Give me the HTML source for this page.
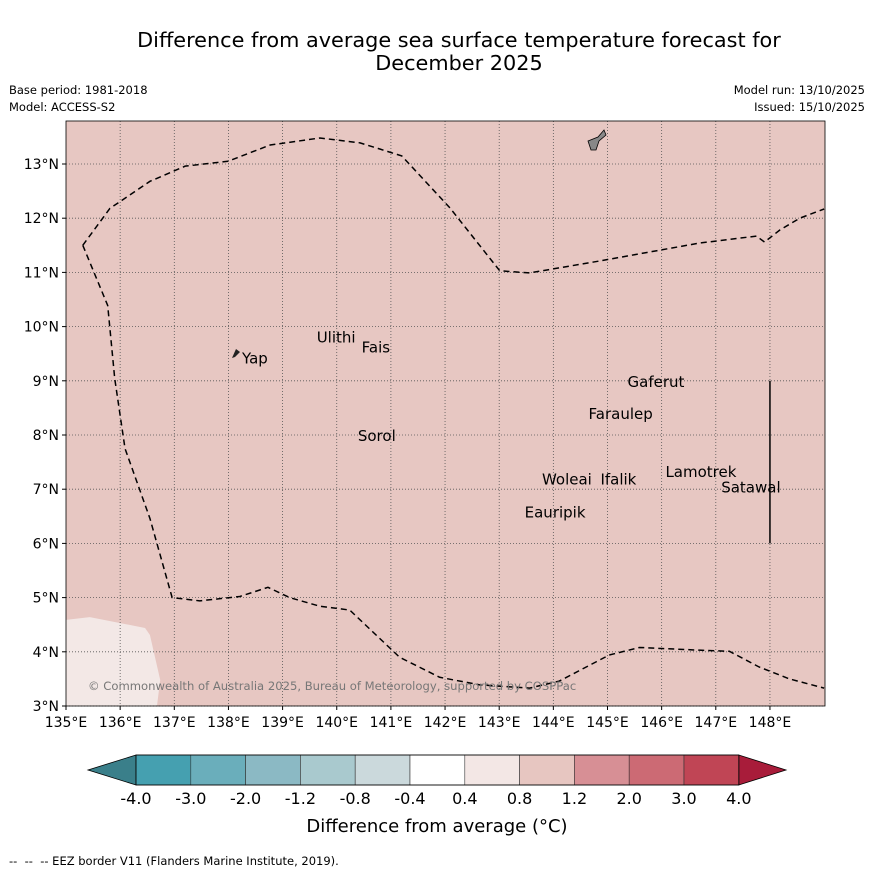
<!DOCTYPE html>
<html><head><meta charset="utf-8"><style>
body{margin:0;background:#fff;font-family:"Liberation Sans","DejaVu Sans",sans-serif;}
svg text{font-family:"DejaVu Sans","Liberation Sans",sans-serif;}
</style></head><body>
<svg id="c" width="873" height="873" viewBox="0 0 873 873" xmlns="http://www.w3.org/2000/svg">
<rect width="873" height="873" fill="#fff"/>
<text x="459" y="47" font-size="20.8" text-anchor="middle">Difference from average sea surface temperature forecast for</text>
<text x="459" y="70" font-size="20.8" text-anchor="middle">December 2025</text>
<text x="9" y="94" font-size="11.5">Base period: 1981-2018</text>
<text x="9" y="111" font-size="11.5">Model: ACCESS-S2</text>
<text x="865" y="94" font-size="11.5" text-anchor="end">Model run: 13/10/2025</text>
<text x="865" y="111" font-size="11.5" text-anchor="end">Issued: 15/10/2025</text>
<g id="map"></g>
<g id="cbar"></g>
<text x="437" y="832" font-size="18" text-anchor="middle">Difference from average (°C)</text>
<text x="9" y="865" font-size="11.5" xml:space="preserve" style="white-space:pre">--  --  -- EEZ border V11 (Flanders Marine Institute, 2019).</text>
</svg>
<script>
const lonTicks=[135,136,137,138,139,140,141,142,143,144,145,146,147,148];
const latTicks=[3,4,5,6,7,8,9,10,11,12,13];
const eezTopLon=[135.31,135.81,136.55,137.2,137.99,138.77,139.69,140.43,141.2,142.09,143.01,143.56,144.85,146.69,147.75,147.9,148.18,148.55,149];
const eezTopLat=[11.5,12.18,12.68,12.96,13.05,13.35,13.48,13.39,13.15,12.19,11.03,10.99,11.21,11.54,11.67,11.56,11.78,12.0,12.17];
const eezBotLon=[135.31,135.77,135.9,136.09,136.55,136.96,137.47,138.21,138.73,139.13,139.69,140.24,140.61,141.16,141.9,142.64,143.56,144.11,145.03,145.59,146.69,147.25,147.8,148.36,149];
const eezBotLat=[11.5,10.39,9.04,7.75,6.46,5.0,4.94,5.02,5.19,5.0,4.84,4.77,4.42,3.9,3.53,3.39,3.33,3.46,3.94,4.08,4.03,4.01,3.72,3.5,3.33];
const warmLon=[135,135.44,136.46,136.55,136.74,136.68,135];
const warmLat=[4.59,4.64,4.44,4.31,3.48,3.0,3.0];
const islandNames=['Ulithi','Fais','Yap','Gaferut','Faraulep','Sorol','Lamotrek','Woleai','Ifalik','Satawal','Eauripik'];
const islandLon=[139.63,140.46,138.25,145.37,144.65,140.39,146.07,143.79,144.87,147.1,143.47];
const islandLat=[9.8,9.61,9.41,8.98,8.39,7.98,7.32,7.18,7.18,7.03,6.57];
const cbBounds=['-4.0','-3.0','-2.0','-1.2','-0.8','-0.4','0.4','0.8','1.2','2.0','3.0','4.0'];
const cbColors=['#45a0b0','#6aaebb','#8bb9c4','#a9c9ce','#cbd9dc','#ffffff','#f3e7e5','#e7c6c1','#d78f95','#cc6a74','#c04555'];
const lonX=l=>66+(l-135)*54.15, latY=l=>706-(l-3)*54.2;
const NS='http://www.w3.org/2000/svg';
function mk(t,a,p){const e=document.createElementNS(NS,t);for(const k in a)e.setAttribute(k,a[k]);p.appendChild(e);return e;}
const m=document.getElementById('map');
let bg=mk('rect',{x:66,y:121,width:759,height:585,fill:'#e7c7c2'},m);


let wp=mk('polygon',{points:warmLon.map((l,i)=>lonX(l)+','+latY(warmLat[i])).join(' '),fill:'#f3e8e6'},m);


lonTicks.forEach(l=>{const x=lonX(l);
 if(l>135){let g=mk('line',{x1:x,x2:x,y1:121,y2:706,stroke:'#555','stroke-width':0.8,'stroke-dasharray':'1,2'},m);
 
 }
 mk('line',{x1:x,x2:x,y1:706,y2:710,stroke:'#000'},m);
 let t=mk('text',{x:x,y:727,'font-size':14,'text-anchor':'middle'},m);t.textContent=l+'°E';
 
 });
latTicks.forEach(l=>{const y=latY(l);
 let g=mk('line',{x1:66,x2:825,y1:y,y2:y,stroke:'#555','stroke-width':0.8,'stroke-dasharray':'1,2'},m);
 
 
 mk('line',{x1:62,x2:66,y1:y,y2:y,stroke:'#000'},m);
 let t=mk('text',{x:59,y:y+5,'font-size':14,'text-anchor':'end'},m);t.textContent=l+'°N';
 
 });
[[eezTopLon,eezTopLat,'eez-border-north'],[eezBotLon,eezBotLat,'eez-border-south']].forEach(([a,b,n])=>{
 let p=mk('polyline',{points:a.map((l,i)=>lonX(l)+','+latY(b[i])).join(' '),fill:'none',stroke:'#000','stroke-width':1.5,'stroke-dasharray':'6,4'},m);
 
 });
let gu=mk('path',{d:'M588,141 L598,137 L604,130 L606,135 L599,141 L596,150 L591,150 Z',fill:'#888',stroke:'#000','stroke-width':0.8},m);


let yp=mk('path',{d:'M232,358 L236,349 L240,352 L235,357 Z',fill:'#222'},m);


let vl=mk('line',{x1:lonX(148),x2:lonX(148),y1:latY(9),y2:latY(6),stroke:'#000','stroke-width':1.5},m);


islandNames.forEach((n,i)=>{let t=mk('text',{x:lonX(islandLon[i]),y:latY(islandLat[i])+5,'font-size':15},m);t.textContent=n;
 
 });
let cp=mk('text',{x:88,y:690,'font-size':11.6,fill:'#777'},m);cp.textContent='© Commonwealth of Australia 2025, Bureau of Meteorology, supported by COSPPac';


let fr=mk('rect',{x:66,y:121,width:759,height:585,fill:'none',stroke:'#000','stroke-width':0.8},m);


const cb=document.getElementById('cbar');const x0=136,w=54.8,y0=755,h=30;
let lt=mk('polygon',{points:`${x0},${y0} ${x0},${y0+h} 88,${y0+h/2}`,fill:'#3a7f8a',stroke:'#000','stroke-width':0.8},cb);


const xe=x0+w*cbColors.length;
let rt=mk('polygon',{points:`${xe},${y0} ${xe},${y0+h} 786,${y0+h/2}`,fill:'#a81c3a',stroke:'#000','stroke-width':0.8},cb);


cbColors.forEach((c,i)=>{let r=mk('rect',{x:x0+i*w,y:y0,width:w,height:h,fill:c,stroke:'#333','stroke-width':0.6},cb);
 
 });
mk('rect',{x:x0,y:y0,width:w*cbColors.length,height:h,fill:'none',stroke:'#000','stroke-width':0.8},cb);
cbBounds.forEach((b,i)=>{let t=mk('text',{x:x0+i*w,y:804,'font-size':16,'text-anchor':'middle'},cb);t.textContent=b;
 
 });
</script>
</body></html>
